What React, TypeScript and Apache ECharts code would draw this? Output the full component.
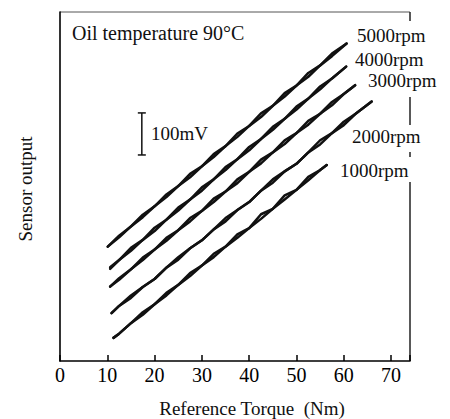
import React, { useEffect, useRef } from "react";
import * as echarts from "echarts";

// Reference torque (Nm) sample positions per speed
const torque5000 = [10.1, 12.5, 15, 17.5, 20, 22.5, 25, 27.5, 30, 32.5, 35, 37.5, 40, 42.5, 45, 47.5, 50, 52.5, 55, 57.5, 60.6];
const torque4000 = [10.6, 12.5, 15, 17.5, 20, 22.5, 25, 27.5, 30, 32.5, 35, 37.5, 40, 42.5, 45, 47.5, 50, 52.5, 55, 57.5, 60.5];
const torque3000 = [10.6, 12.5, 15, 17.5, 20, 22.5, 25, 27.5, 30, 32.5, 35, 37.5, 40, 42.5, 45, 47.5, 50, 52.5, 55, 57.5, 60, 62.4];
const torque2000 = [10.9, 12.5, 15, 17.5, 20, 22.5, 25, 27.5, 30, 32.5, 35, 37.5, 40, 42.5, 45, 47.5, 50, 52.5, 55, 57.5, 60, 62.5, 65.9];
const torque1000 = [11.3, 12.5, 15, 17.5, 20, 22.5, 25, 27.5, 30, 32.5, 35, 37.5, 40, 42.5, 45, 47.5, 50, 52.5, 55, 56.4];

// Sensor output (relative mV) – increasing and decreasing torque traces
const up5000 = [272, 294, 320, 342, 368, 390, 416, 437, 463, 485, 511, 533, 559, 580, 607, 629, 655, 676, 703, 725, 755];
const down5000 = [272, 298, 320, 348, 368, 396, 416, 445, 463, 492, 511, 541, 559, 589, 607, 637, 655, 685, 703, 731, 755];
const up4000 = [219, 240, 262, 288, 309, 336, 358, 384, 405, 432, 454, 480, 501, 528, 550, 576, 598, 624, 646, 672, 700];
const down4000 = [223, 240, 269, 288, 317, 336, 365, 384, 413, 432, 461, 480, 509, 528, 557, 576, 605, 624, 653, 672, 700];
const up3000 = [177, 193, 218, 240, 265, 286, 311, 332, 357, 378, 403, 423, 450, 470, 496, 516, 542, 562, 588, 608, 635, 656];
const down3000 = [177, 197, 218, 246, 265, 293, 311, 340, 357, 386, 403, 432, 450, 479, 496, 525, 542, 571, 588, 616, 635, 656];
const up2000 = [114, 131, 150, 176, 195, 222, 241, 268, 287, 313, 332, 359, 378, 405, 424, 451, 469, 496, 515, 542, 561, 588, 617];
const down2000 = [114, 131, 156, 176, 195, 222, 247, 268, 287, 313, 340, 359, 378, 405, 432, 451, 469, 496, 525, 542, 569, 588, 617];
const up1000 = [55, 65, 90, 110, 135, 156, 181, 202, 227, 247, 272, 293, 316, 338, 362, 384, 407, 430, 454, 466];
const down1000 = [55, 65, 90, 116, 135, 162, 181, 209, 227, 255, 272, 301, 316, 349, 362, 394, 407, 438, 454, 466];

// 100 mV scale bar
const scaleBarTorque = [17.3, 17.3];
const scaleBarOutput = [490, 590];

const xTicks = [0, 10, 20, 30, 40, 50, 60, 70];
const speedLabels = ["5000rpm", "4000rpm", "3000rpm", "2000rpm", "1000rpm"];

const FONT = '"Liberation Serif", "Times New Roman", serif';

const pairs = (xs: number[], ys: number[]) => xs.map((x, i) => [x, ys[i]]);

export default function App() {
  const ref = useRef<HTMLDivElement>(null);
  useEffect(() => {
    if (!ref.current) return;
    const chart = echarts.init(ref.current, undefined, { renderer: "svg" });
    const traces: [number[], number[]][] = [
      [torque5000, up5000], [torque5000, down5000],
      [torque4000, up4000], [torque4000, down4000],
      [torque3000, up3000], [torque3000, down3000],
      [torque2000, up2000], [torque2000, down2000],
      [torque1000, up1000], [torque1000, down1000],
    ];
    const series: any[] = traces.map(([xs, ys]) => ({
      type: "line",
      data: pairs(xs, ys),
      showSymbol: false,
      symbol: "none",
      lineStyle: { color: "#111", width: 2.5, join: "round", cap: "round" },
      silent: true,
    }));
    series.push({
      type: "line",
      data: pairs(scaleBarTorque, scaleBarOutput),
      symbol: "rect",
      symbolSize: [8, 1.5],
      showSymbol: true,
      itemStyle: { color: "#111" },
      lineStyle: { color: "#111", width: 1.5 },
      silent: true,
    });
    const labelPos = [
      [357, 35], [355, 59], [368, 80], [352, 136], [340, 170],
    ];
    const textStyle = (text: string, size = 19) => ({
      text,
      font: `${size}px ${FONT}`,
      fill: "#111",
      textAlign: "left",
      textVerticalAlign: "middle",
    });
    const graphic: any[] = [
      { type: "line", shape: { x1: 60, y1: 12, x2: 410, y2: 12 }, style: { stroke: "#555", lineWidth: 1 } },
      { type: "line", shape: { x1: 410, y1: 12, x2: 410, y2: 21 }, style: { stroke: "#222", lineWidth: 1.5 } },
      { type: "line", shape: { x1: 410, y1: 97, x2: 410, y2: 125 }, style: { stroke: "#222", lineWidth: 1.5 } },
      { type: "line", shape: { x1: 410, y1: 152, x2: 410, y2: 157 }, style: { stroke: "#222", lineWidth: 1.5 } },
      { type: "line", shape: { x1: 410, y1: 182, x2: 410, y2: 361 }, style: { stroke: "#222", lineWidth: 1.5 } },
      { type: "text", x: 72, y: 33, style: textStyle("Oil temperature 90°C", 20) },
      { type: "text", x: 151, y: 133, style: textStyle("100mV") },
      ...speedLabels.map((t, i) => ({ type: "text", x: labelPos[i][0], y: labelPos[i][1], style: textStyle(t, 19) })),
      { type: "text", x: 252, y: 408, style: { ...textStyle("Reference Torque  (Nm)"), textAlign: "center" } },
      { type: "text", x: 25, y: 189, rotation: Math.PI / 2, style: { ...textStyle("Sensor output"), textAlign: "center" } },
    ];
    chart.setOption({
      animation: false,
      backgroundColor: "#fff",
      grid: { left: 60, right: 40, top: 12, bottom: 58, show: false },
      xAxis: {
        type: "value",
        min: 0,
        max: 74,
        interval: 10,
        axisLine: { show: true, lineStyle: { color: "#000", width: 1.6 } },
        axisTick: { show: true, inside: true, length: 6, lineStyle: { color: "#000", width: 1.5 } },
        axisLabel: {
          fontSize: 20,
          fontFamily: FONT,
          color: "#000",
          margin: 4,
          formatter: (v: number) => (xTicks.includes(v) ? String(v) : ""),
        },
        splitLine: { show: false },
      },
      yAxis: {
        type: "value",
        min: 0,
        max: 830,
        axisLine: { show: true, lineStyle: { color: "#000", width: 1.6 } },
        axisTick: { show: false },
        axisLabel: { show: false },
        splitLine: { show: false },
      },
      series,
      graphic,
    });
    return () => chart.dispose();
  }, []);
  return <div ref={ref} style={{ width: 450, height: 419, position: "absolute", left: 0, top: 0 }} />;
}
